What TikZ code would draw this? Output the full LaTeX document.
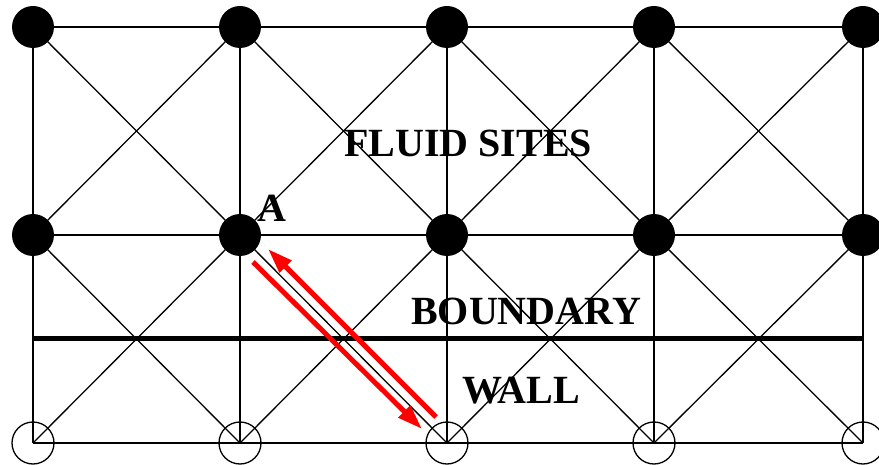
\documentclass[tikz,border=0pt]{standalone}
\usepackage{fontspec}
\setmainfont{Liberation Serif}
\usetikzlibrary{arrows.meta,calc}
\begin{document}
\begin{tikzpicture}[x=1pt,y=-1pt,
  grid/.style={line width=1.3pt,black},
  fluid/.style={circle,fill=black,minimum size=42pt,inner sep=0pt},
  wallsite/.style={circle,draw=black,line width=1.3pt,minimum size=42pt,inner sep=0pt},
  label/.style={font=\bfseries\fontsize{40}{40}\selectfont,anchor=base west,inner sep=0pt},
  flow/.style={red,line width=5pt,-{Triangle[length=25pt,width=16pt]}}]
\useasboundingbox (0,0) rectangle (879,465);
% lattice positions: columns c0..c4, rows t (top), m (middle), b (bottom, wall)
\foreach \i/\x in {0/33,1/240,2/447,3/654,4/863}{
  \coordinate (t\i) at (\x,27);
  \coordinate (m\i) at (\x,235);
  \coordinate (b\i) at (\x,443);
}
% horizontal links
\draw[grid] (t0) -- (t4);
\draw[grid] (m0) -- (m4);
\draw[grid] (b0) -- (b4);
% vertical links
\foreach \i in {0,...,4}{\draw[grid] (t\i) -- (b\i);}
% diagonal links in every cell
\foreach \i [evaluate=\i as \j using int(\i+1)] in {0,...,3}{
  \draw[grid] (t\i) -- (m\j);
  \draw[grid] (m\i) -- (t\j);
  \draw[grid] (m\i) -- (b\j);
  \draw[grid] (b\i) -- (m\j);
}
% boundary line
\coordinate (bl) at (33,339);
\coordinate (br) at (863,339);
\draw[line width=5pt] (bl) -- (br);
% sites
\foreach \i in {0,...,4}{
  \node[fluid] (T\i) at (t\i) {};
  \node[fluid] (M\i) at (m\i) {};
  \node[wallsite] (B\i) at (b\i) {};
}
% bounce-back streaming along the link from A to the wall
\coordinate (outS) at (253,262);
\coordinate (outE) at (422,429);
\coordinate (inS) at (436,417);
\coordinate (inE) at (268,249);
\draw[flow] (outS) -- (outE);
\draw[flow] (inS) -- (inE);
% labels
\node[label] (lfluid) at (344,157) {FLUID SITES};
\node[label] (lbound) at (411,325) {BOUNDARY};
\node[label] (lwall) at (462,403) {WALL};
\node[label] (lA) at (257,222) {A};
\end{tikzpicture}
\end{document}
